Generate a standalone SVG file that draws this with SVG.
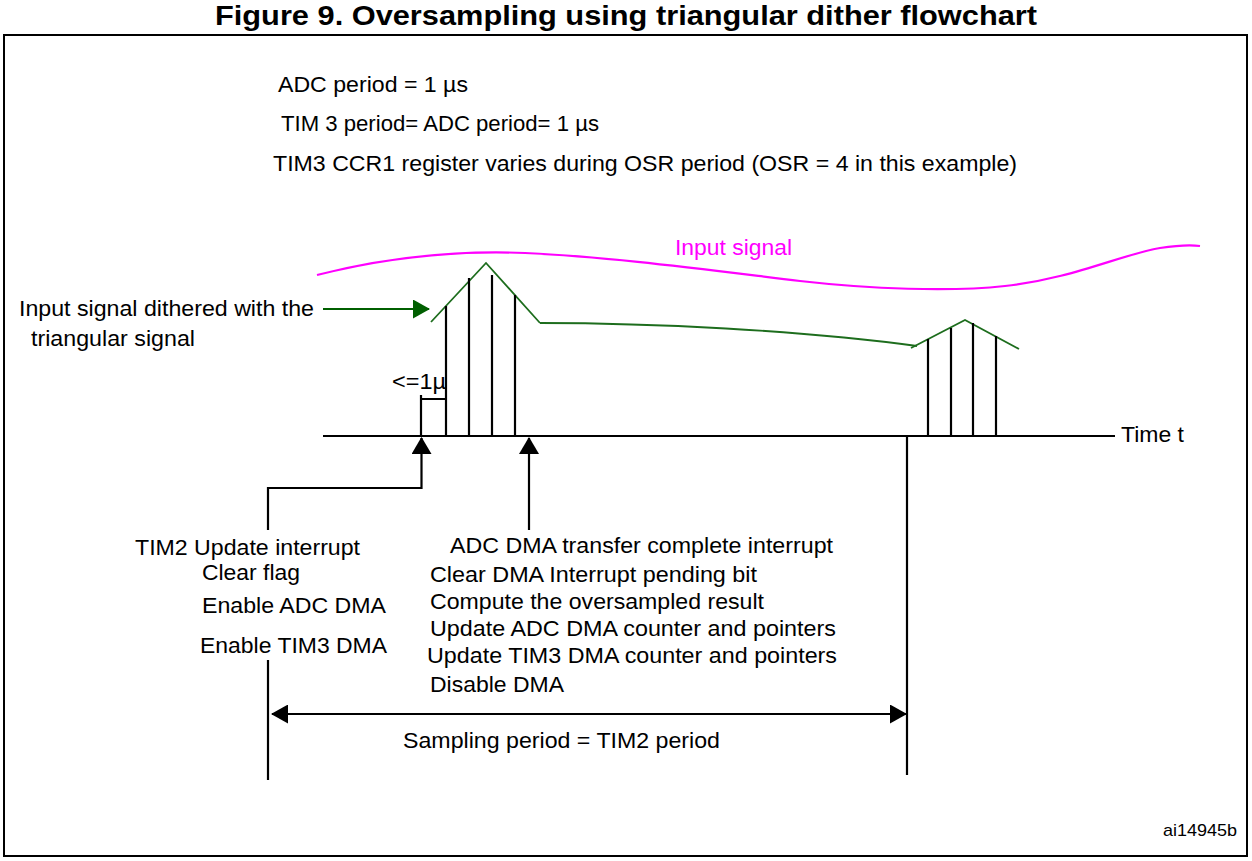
<svg xmlns="http://www.w3.org/2000/svg" width="1252" height="861" viewBox="0 0 1252 861">
<style>
text{font-family:"Liberation Sans",Arial,sans-serif;font-size:22px;fill:#000}
.title{font-weight:bold;font-size:28px}
.ln{stroke:#000;stroke-width:2.2;fill:none}
.sig{stroke:#1d6d1d;stroke-width:1.8;fill:none}
.mag{stroke:#ff00ff;stroke-width:2.2;fill:none}
</style>
<defs>
<marker id="ah" viewBox="0 0 17 19" refX="16" refY="9.5" markerWidth="17" markerHeight="19" markerUnits="userSpaceOnUse" orient="auto-start-reverse">
<path d="M0,0 L17,9.5 L0,19 z" fill="#000"/>
</marker>
<marker id="ahv" viewBox="0 0 17 20" refX="16" refY="10" markerWidth="17" markerHeight="20" markerUnits="userSpaceOnUse" orient="auto">
<path d="M0,0 L17,10 L0,20 z" fill="#000"/>
</marker>
<marker id="ahg" viewBox="0 0 17 19" refX="16" refY="9.5" markerWidth="17" markerHeight="19" markerUnits="userSpaceOnUse" orient="auto">
<path d="M0,0 L17,9.5 L0,19 z" fill="#005f00"/>
</marker>
</defs>
<rect x="0" y="0" width="1252" height="861" fill="#fff"/>
<text class="title" x="215" y="25" textLength="822" lengthAdjust="spacingAndGlyphs">Figure 9. Oversampling using triangular dither flowchart</text>
<rect x="4" y="35" width="1243" height="821" fill="none" stroke="#000" stroke-width="2"/>

<g id="notes">
<text x="278" y="92" textLength="190" lengthAdjust="spacingAndGlyphs">ADC period = 1 µs</text>
<text x="281" y="131" textLength="318" lengthAdjust="spacingAndGlyphs">TIM 3 period= ADC period= 1 µs</text>
<text x="273" y="171" textLength="744" lengthAdjust="spacingAndGlyphs">TIM3 CCR1 register varies during OSR period (OSR = 4 in this example)</text>
</g>

<g id="input-signal">
<path class="mag" d="M317,275 C380,259 450,250 525,253 C610,257 700,269 800,281 C870,289 950,292 1005,286 C1071,279 1120,255 1160,248 C1180,245 1192,245 1200,246"/>
<text x="675" y="255" style="fill:#ff00ff" textLength="117" lengthAdjust="spacingAndGlyphs">Input signal</text>
</g>

<g id="dithered-signal">
<path class="sig" d="M431,322 L486,263 L540,323"/>
<path class="sig" d="M540,323 C650,323 800,330 917,346"/>
<path class="sig" d="M911,348 L965,320 L1019,349"/>
</g>

<g id="dither-label">
<text x="19" y="316" textLength="295" lengthAdjust="spacingAndGlyphs">Input signal dithered with the</text>
<text x="31" y="346" textLength="164" lengthAdjust="spacingAndGlyphs">triangular signal</text>
</g>

<g id="time-axis">
<line class="ln" x1="323" y1="436" x2="1115" y2="436"/>
<text x="1121" y="442" textLength="63" lengthAdjust="spacingAndGlyphs">Time t</text>
</g>

<g id="samples">
<line class="ln" x1="446" y1="436" x2="446" y2="306"/>
<line class="ln" x1="469" y1="436" x2="469" y2="278"/>
<line class="ln" x1="492" y1="436" x2="492" y2="275"/>
<line class="ln" x1="515" y1="436" x2="515" y2="295"/>
<line class="ln" x1="928" y1="436" x2="928" y2="339"/>
<line class="ln" x1="951" y1="436" x2="951" y2="328"/>
<line class="ln" x1="973" y1="436" x2="973" y2="323"/>
<line class="ln" x1="996" y1="436" x2="996" y2="336"/>
</g>

<g id="delay">
<path class="ln" d="M421,395 L421,436 M421,399 L446,399"/>
<text x="392" y="389" textLength="54" lengthAdjust="spacingAndGlyphs">&lt;=1µ</text>
</g>

<g id="tim2-interrupt">
<text x="135" y="555" textLength="225" lengthAdjust="spacingAndGlyphs">TIM2 Update interrupt</text>
<text x="202" y="580" textLength="98" lengthAdjust="spacingAndGlyphs">Clear flag</text>
<text x="202" y="613" textLength="184" lengthAdjust="spacingAndGlyphs">Enable ADC DMA</text>
<text x="200" y="653" textLength="187" lengthAdjust="spacingAndGlyphs">Enable TIM3 DMA</text>
</g>

<g id="dma-interrupt">
<text x="450" y="553" textLength="383" lengthAdjust="spacingAndGlyphs">ADC DMA transfer complete interrupt</text>
<text x="430" y="582" textLength="327" lengthAdjust="spacingAndGlyphs">Clear DMA Interrupt pending bit</text>
<text x="430" y="609" textLength="334" lengthAdjust="spacingAndGlyphs">Compute the oversampled result</text>
<text x="430" y="636" textLength="406" lengthAdjust="spacingAndGlyphs">Update ADC DMA counter and pointers</text>
<text x="427" y="663" textLength="410" lengthAdjust="spacingAndGlyphs">Update TIM3 DMA counter and pointers</text>
<text x="430" y="692" textLength="134" lengthAdjust="spacingAndGlyphs">Disable DMA</text>
</g>

<g id="sampling-period">
<text x="403" y="748" textLength="317" lengthAdjust="spacingAndGlyphs">Sampling period = TIM2 period</text>
</g>

<g id="connectors">
<line x1="323" y1="309" x2="429" y2="309" stroke="#005f00" stroke-width="2.2" marker-end="url(#ahg)"/>
<path class="ln" d="M268,530 L268,488 L421.5,488 L421.5,438" marker-end="url(#ahv)"/>
<path class="ln" d="M529,530 L529,438" marker-end="url(#ahv)"/>
<line class="ln" x1="268" y1="660" x2="268" y2="780"/>
<line class="ln" x1="907" y1="436" x2="907" y2="775"/>
<line class="ln" x1="272" y1="714" x2="906" y2="714" marker-start="url(#ah)" marker-end="url(#ah)"/>
</g>

<text x="1163" y="836" style="font-size:17px" textLength="74" lengthAdjust="spacingAndGlyphs">ai14945b</text>
</svg>
